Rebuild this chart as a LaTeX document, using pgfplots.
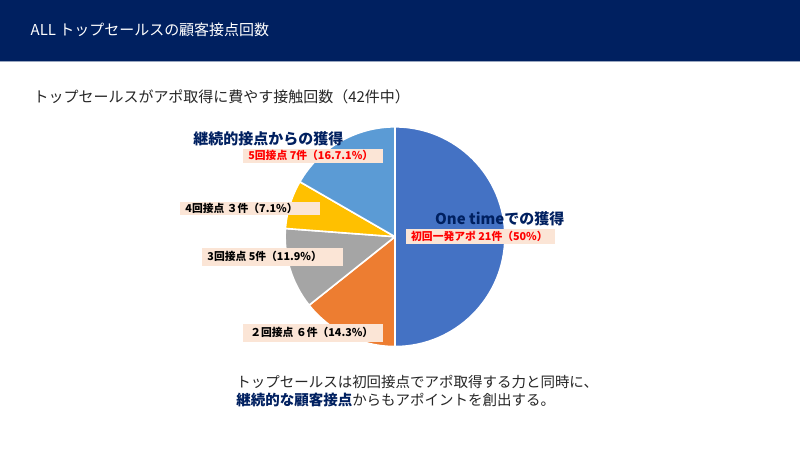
\documentclass[border=0pt]{standalone}
\usepackage{pgfplots}
\usepackage{pgfplotstable}
\pgfplotsset{compat=1.18}
\usepackage{fontspec}
\setmainfont{Noto Sans CJK JP}

\definecolor{navy}{HTML}{002060}
\definecolor{bodytxt}{HTML}{262626}
\definecolor{peach}{HTML}{FBE5D6}
\definecolor{slice0}{HTML}{4472C4}
\definecolor{slice1}{HTML}{ED7D31}
\definecolor{slice2}{HTML}{A5A5A5}
\definecolor{slice3}{HTML}{FFC000}
\definecolor{slice4}{HTML}{5B9BD5}

% counts per contact number (1st, 2nd, 3rd, 4th, 5th+)
\pgfplotstableread{
n
21
6
5
3
7
}\piedata

\newcommand{\fs}[1]{\fontsize{#1}{#1}\selectfont}

\begin{document}
\begin{tikzpicture}[x=1pt,y=1pt]
  % start/end angles of the slices, clockwise from 12 o'clock
  \gdef\cum{0}
  \pgfplotsforeachungrouped \i in {0,...,4}{%
    \pgfplotstablegetelem{\i}{n}\of\piedata
    \pgfmathsetmacro\aS{90-360*\cum/42}%
    \pgfmathsetmacro\cumnew{\cum+\pgfplotsretval}%
    \pgfmathsetmacro\aE{90-360*\cumnew/42}%
    \expandafter\xdef\csname pieS\i\endcsname{\aS}%
    \expandafter\xdef\csname pieE\i\endcsname{\aE}%
    \xdef\cum{\cumnew}%
  }

  \fill[white] (0,0) rectangle (800,450);
  % header band
  \fill[navy] (0,389) rectangle (800,450);
  \draw[color=navy!40, line width=1pt] (0,388.5) -- (800,388.5);
  \node[anchor=west, text=white, font=\fs{15}, inner sep=0] at (30,420) {ALL トップセールスの顧客接点回数};
  \node[anchor=west, text=bodytxt, font=\fs{15}, inner sep=0] at (33,353) {トップセールスがアポ取得に費やす接触回数（42件中）};

  \begin{axis}[at={(395pt,213pt)}, anchor=center, scale only axis,
      width=220pt, height=220pt,
      xmin=-1, xmax=1, ymin=-1, ymax=1, hide axis]
    \pgfplotsinvokeforeach{0,...,4}{
      \filldraw[fill=slice#1, draw=white, line width=1.6pt, line join=round]
        (axis cs:0,0) -- ++(\csname pieS#1\endcsname:110pt)
        arc[start angle=\csname pieS#1\endcsname, end angle=\csname pieE#1\endcsname, radius=110pt] -- cycle;
    }
  \end{axis}

  % group headings
  \node[anchor=west, text=navy, font=\fs{15}\bfseries, inner sep=0] at (193,311) {継続的接点からの獲得};
  \node[anchor=west, text=navy, font=\fs{15}\bfseries, inner sep=0] at (435,231) {One timeでの獲得};

  % slice labels
  \fill[peach] (243,287) rectangle (383,301);
  \node[anchor=west, text=red, font=\fs{10.8}\bfseries, inner sep=0] at (248,294) {5回接点 7件（16.7.1\%）};
  \fill[peach] (180,235) rectangle (320,248);
  \node[anchor=west, text=black, font=\fs{10.8}\bfseries, inner sep=0] at (185,241.5) {4回接点 ３件（7.1\%）};
  \fill[peach] (202,184) rectangle (343,202);
  \node[anchor=west, text=black, font=\fs{10.8}\bfseries, inner sep=0] at (207,193) {3回接点 5件（11.9\%）};
  \fill[peach] (243,108) rectangle (383,126);
  \node[anchor=west, text=black, font=\fs{10.8}\bfseries, inner sep=0] at (250,117) {２回接点 ６件（14.3\%）};
  \fill[peach] (406,206) rectangle (555,221);
  \node[anchor=west, text=red, font=\fs{10.8}\bfseries, inner sep=0] at (411,213.5) {初回一発アポ 21件（50\%）};

  % conclusion
  \node[anchor=west, text=bodytxt, font=\fs{14.5}, inner sep=0] at (236,68) {トップセールスは初回接点でアポ取得する力と同時に、};
  \node[anchor=west, text=bodytxt, font=\fs{14.5}, inner sep=0] at (236,49) {\textcolor{navy}{\bfseries 継続的な顧客接点}からもアポイントを創出する。};
\end{tikzpicture}
\end{document}
